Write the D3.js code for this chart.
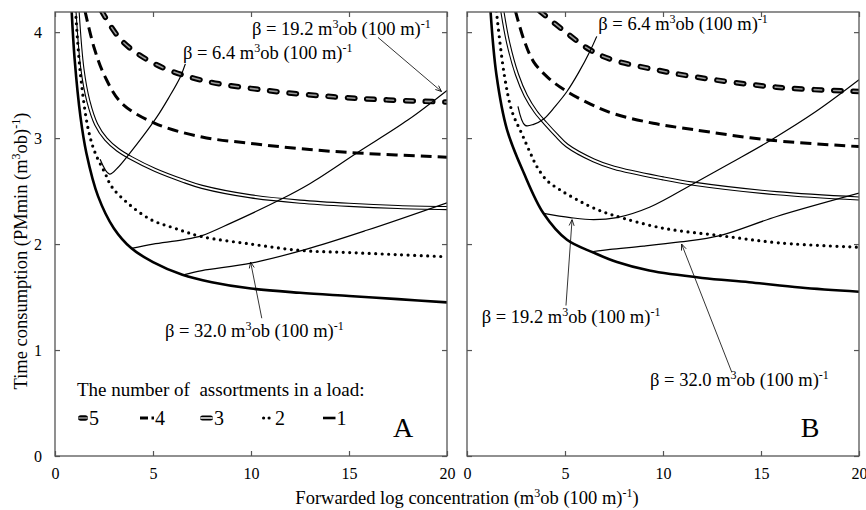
<!DOCTYPE html>
<html>
<head>
<meta charset="utf-8">
<script src="https://d3js.org/d3.v7.min.js"></script>
<style>
  body { margin: 0; background: #fff; }
  svg text { font-family: "Liberation Serif", "DejaVu Serif", serif; fill: #000; white-space: pre; }
</style>
</head>
<body>
<div id="chart"></div>
<script>
  // axis values
  const xTicks = [0, 5, 10, 15, 20];
  const yTicks = [0, 1, 2, 3, 4];
  const legendKeys = ["5", "4", "3", "2", "1"];

  // panel A: number of assortments in a load, [concentration, time]
  const a5 = [[2.38, 4.2], [3.4, 3.92], [5.1, 3.7], [7.4, 3.55], [10.8, 3.45], [14.2, 3.39], [17, 3.36], [20, 3.34]];
  const a4 = [[1.53, 4.2], [2.0, 3.85], [2.55, 3.58], [3.4, 3.33], [5.1, 3.14], [7.5, 3.01], [10, 2.95], [12.5, 2.9], [15.4, 2.86], [20, 2.82]];
  const a3 = [[1.15, 4.2], [1.4, 3.65], [1.7, 3.35], [2.1, 3.13], [2.6, 2.99], [3.2, 2.89], [3.9, 2.81], [5.1, 2.7], [6.5, 2.6], [7.5, 2.54], [10, 2.45], [12.5, 2.4], [15, 2.37], [17.5, 2.35], [20, 2.34]];
  const a2 = [[1.05, 4.2], [1.3, 3.6], [1.7, 3.08], [2.05, 2.86], [2.55, 2.67], [2.9, 2.54], [3.75, 2.38], [4.9, 2.23], [6.1, 2.15], [7.5, 2.07], [10, 2.0], [12.5, 1.94], [15, 1.92], [17.5, 1.9], [20, 1.88]];
  const a1 = [[0.85, 4.2], [1.0, 3.75], [1.3, 3.2], [1.6, 2.86], [2.2, 2.45], [3.0, 2.15], [3.9, 1.96], [5.0, 1.83], [6.5, 1.71], [8, 1.64], [10, 1.58], [12.5, 1.54], [15, 1.51], [17.5, 1.48], [20, 1.45]];
  // panel A: beta curves
  const aBeta64 = [[2.3, 2.8], [2.78, 2.66], [3.2, 2.72], [3.83, 2.86], [4.5, 3.02], [5.2, 3.2], [5.8, 3.38], [6.4, 3.58], [6.65, 3.7]];
  const aBeta192 = [[3.9, 1.96], [5, 2.0], [6.5, 2.04], [7.5, 2.08], [9, 2.2], [11.5, 2.42], [13, 2.57], [15.4, 2.86], [18, 3.17], [20, 3.45]];
  const aBeta320 = [[6.55, 1.71], [7.5, 1.75], [10, 1.82], [12.8, 1.95], [15.9, 2.13], [20, 2.39]];

  // panel B
  const b5 = [[3.7, 4.2], [5.1, 3.99], [6.3, 3.83], [7.4, 3.74], [9.5, 3.65], [11.55, 3.58], [15.8, 3.48], [20, 3.44]];
  const b4 = [[2.47, 4.2], [2.9, 3.93], [3.4, 3.72], [4.2, 3.56], [5.1, 3.44], [6.3, 3.32], [7.5, 3.23], [9.5, 3.14], [11.55, 3.08], [15.5, 2.98], [20, 2.92]];
  const b3 = [[1.8, 4.2], [2.1, 3.9], [2.55, 3.6], [3.0, 3.4], [3.5, 3.25], [4.0, 3.14], [4.6, 3.02], [5.1, 2.93], [6.46, 2.79], [7.5, 2.72], [10, 2.62], [11.55, 2.57], [15.8, 2.48], [20, 2.43]];
  const b2 = [[1.5, 4.2], [1.9, 3.6], [2.3, 3.25], [2.8, 3.04], [3.23, 2.86], [3.57, 2.73], [4.08, 2.6], [4.76, 2.51], [5.6, 2.42], [6.46, 2.34], [7.5, 2.27], [10, 2.15], [12.9, 2.08], [16, 2.01], [20, 1.97]];
  const b1 = [[1.2, 4.2], [1.5, 3.6], [2.04, 3.08], [2.9, 2.67], [3.9, 2.29], [5.1, 2.04], [6.45, 1.92], [7.65, 1.83], [9.3, 1.75], [12, 1.68], [14.4, 1.64], [17, 1.59], [20, 1.55]];
  const bBeta64 = [[2.6, 3.3], [2.97, 3.12], [3.4, 3.13], [3.91, 3.18], [4.5, 3.3], [5.1, 3.44], [5.7, 3.62], [6.3, 3.83], [6.62, 3.96]];
  const bBeta192 = [[3.91, 2.29], [5.27, 2.25], [6.46, 2.23], [7.65, 2.25], [9.34, 2.35], [11.55, 2.57], [13.5, 2.77], [15.5, 2.98], [17.8, 3.25], [20, 3.55]];
  const bBeta320 = [[6.44, 1.93], [7.3, 1.95], [9, 1.98], [10.87, 2.02], [12.9, 2.08], [15.8, 2.26], [20, 2.48]];

  // annotation labels [beta, x, y] and arrows [x0, y0, x1, y1] in data units
  const labelsA = [["19.2", 10.05, 3.97], ["6.4", 6.53, 3.75], ["32.0", 5.61, 1.127]];
  const arrowsA = [[16.48, 3.95, 19.72, 3.44], [10.55, 1.30, 9.98, 1.83]];
  const labelsB = [["6.4", 6.70, 4.02], ["19.2", 0.75, 1.255], ["32.0", 9.34, 0.656]];
  const arrowsB = [[5.05, 1.42, 5.36, 2.23], [13.5, 0.795, 10.95, 2.0]];

  const width = 866;
  const height = 510;
  const plotTop = 12, plotBottom = 456;

  // line styles, drawn as stacked strokes
  const styles = {
    "5": [{ c: "#000", w: 5.5, d: "7.5 12", cap: "round" }, { c: "#9a9a9a", w: 1.6, d: "7.5 12", cap: "round" }],
    "4": [{ c: "#000", w: 3, d: "11 6" }],
    "3": [{ c: "#000", w: 4.2 }, { c: "#fff", w: 2 }],
    "2": [{ c: "#000", w: 3.2, d: "0 6.5", cap: "round" }],
    "1": [{ c: "#000", w: 2.6 }],
    "beta": [{ c: "#000", w: 1.2 }]
  };

  const svg = d3.select("#chart").append("svg")
    .attr("width", width)
    .attr("height", height);

  svg.append("defs").append("marker")
    .attr("id", "arr")
    .attr("markerUnits", "userSpaceOnUse")
    .attr("viewBox", "-7 -4 8 8")
    .attr("markerWidth", 8).attr("markerHeight", 8)
    .attr("orient", "auto")
    .append("path")
    .attr("d", "M-6,-2.5L0,0L-6,2.5")
    .attr("fill", "none")
    .attr("stroke", "#000")
    .attr("stroke-width", 0.8);

  const y = d3.scaleLinear().domain([0, 4.19]).range([plotBottom, plotTop]);

  // text with superscripts
  function rich(g, x, yy, parts, size, anchor) {
    const t = g.append("text")
      .attr("x", x).attr("y", yy)
      .attr("font-size", size)
      .attr("text-anchor", anchor || "start");
    let up = false;
    parts.forEach(p => {
      const sup = p[1] === true;
      const ts = t.append("tspan").text(p[0]);
      if (sup) {
        ts.attr("font-size", size * 0.65).attr("dy", -size * 0.38);
        up = true;
      } else if (up) {
        ts.attr("dy", size * 0.38);
        up = false;
      }
    });
    return t;
  }
  const betaText = v => [["\u03b2 = " + v + " m"], ["3", true], ["ob (100 m)"], ["-1", true]];

  function drawStyled(g, data, key, line) {
    styles[key].forEach(s => {
      g.append("path")
        .datum(data)
        .attr("d", line)
        .attr("fill", "none")
        .attr("stroke", s.c)
        .attr("stroke-width", s.w)
        .attr("stroke-dasharray", s.d || null)
        .attr("stroke-linecap", s.cap || "butt");
    });
  }

  function drawPanel(id, x0, x1, series, betas, labels, arrows, letter, letterX, yLabels) {
    const x = d3.scaleLinear().domain([0, 20]).range([x0, x1]);
    const g = svg.append("g");

    g.append("clipPath").attr("id", "clip" + id)
      .append("rect")
      .attr("x", x0).attr("y", plotTop)
      .attr("width", x1 - x0).attr("height", plotBottom - plotTop);

    const line = d3.line()
      .x(d => x(d[0]))
      .y(d => y(d[1]))
      .curve(d3.curveCatmullRom.alpha(0.5));

    const plot = g.append("g").attr("clip-path", `url(#clip${id})`);
    legendKeys.forEach((k, i) => drawStyled(plot, series[i], k, line));
    betas.forEach(b => drawStyled(plot, b, "beta", line));

    // arrows
    g.selectAll(".arrow")
      .data(arrows)
      .enter().append("line")
      .attr("x1", d => x(d[0])).attr("y1", d => y(d[1]))
      .attr("x2", d => x(d[2])).attr("y2", d => y(d[3]))
      .attr("stroke", "#000")
      .attr("stroke-width", 0.8)
      .attr("marker-end", "url(#arr)");

    labels.forEach(l => rich(g, x(l[1]), y(l[2]), betaText(l[0]), 18.5));

    // axes, ticks pointing inwards
    const axisStyle = a => {
      a.select(".domain").remove();
      a.selectAll("line").attr("stroke", "#555").attr("stroke-width", 1.2);
      a.selectAll("text")
        .style("font-family", '"Liberation Serif", serif')
        .attr("font-size", 16)
        .attr("fill", "#000");
    };
    g.append("g")
      .attr("transform", `translate(0,${plotBottom})`)
      .call(d3.axisBottom(x).tickValues(xTicks).tickSize(-5).tickPadding(12))
      .call(axisStyle);
    g.append("g")
      .attr("transform", `translate(0,${plotTop})`)
      .call(d3.axisTop(x).tickValues(xTicks).tickSize(-5).tickFormat(""))
      .call(axisStyle);
    g.append("g")
      .attr("transform", `translate(${x0},0)`)
      .call(d3.axisLeft(y).tickValues(yTicks).tickSize(-5).tickPadding(13)
        .tickFormat(yLabels ? d3.format("d") : ""))
      .call(axisStyle);
    g.append("g")
      .attr("transform", `translate(${x1},0)`)
      .call(d3.axisRight(y).tickValues(yTicks).tickSize(-5).tickFormat(""))
      .call(axisStyle);

    g.append("rect")
      .attr("x", x0).attr("y", plotTop)
      .attr("width", x1 - x0).attr("height", plotBottom - plotTop)
      .attr("fill", "none")
      .attr("stroke", "#555")
      .attr("stroke-width", 1.3);

    g.append("text")
      .attr("x", letterX).attr("y", 437)
      .attr("text-anchor", "middle")
      .attr("font-size", 28)
      .text(letter);

    return g;
  }

  const gA = drawPanel("A", 55, 447, [a5, a4, a3, a2, a1], [aBeta64, aBeta192, aBeta320], labelsA, arrowsA, "A", 403, true);
  drawPanel("B", 467, 859, [b5, b4, b3, b2, b1], [bBeta64, bBeta192, bBeta320], labelsB, arrowsB, "B", 810, false);

  // legend in panel A
  gA.append("text")
    .attr("x", 77).attr("y", 395.5)
    .attr("font-size", 19)
    .text("The number of  assortments in a load:");

  const legendX = [78, 140, 200, 262, 323];
  const legendLen = { "5": 10, "4": 14, "3": 13, "2": 12, "1": 12.5 };
  const legendDash = { "5": null, "4": "8 3.5 2.5", "3": null, "2": "0 5.5", "1": null };
  const legendSym = {
    "3": [{ c: "#000", w: 5, cap: "round" }, { c: "#bbb", w: 2.2, cap: "round" }]
  };
  legendKeys.forEach((k, i) => {
    const lx = legendX[i];
    (legendSym[k] || styles[k]).forEach(s => {
      const inset = s.cap === "round" && k !== "2" ? s.w / 2 : (k === "2" ? 1.6 : 0);
      gA.append("line")
        .attr("x1", lx + inset).attr("x2", lx + legendLen[k] - inset)
        .attr("y1", 418).attr("y2", 418)
        .attr("stroke", s.c)
        .attr("stroke-width", s.w)
        .attr("stroke-dasharray", legendDash[k])
        .attr("stroke-linecap", s.cap || "butt");
    });
    gA.append("text")
      .attr("x", lx + legendLen[k] + 1).attr("y", 425)
      .attr("font-size", 20)
      .text(k);
  });

  // axis titles
  rich(svg, 467, 504, [["Forwarded log concentration (m"], ["3", true], ["ob (100 m)"], ["-1", true], [")"]], 18.5, "middle");
  const yt = rich(svg, 0, 0, [["Time consumption (PMmin (m"], ["3", true], ["ob)"], ["-1", true], [")"]], 18.5, "middle");
  yt.attr("transform", "translate(27,251) rotate(-90)");
</script>
</body>
</html>
